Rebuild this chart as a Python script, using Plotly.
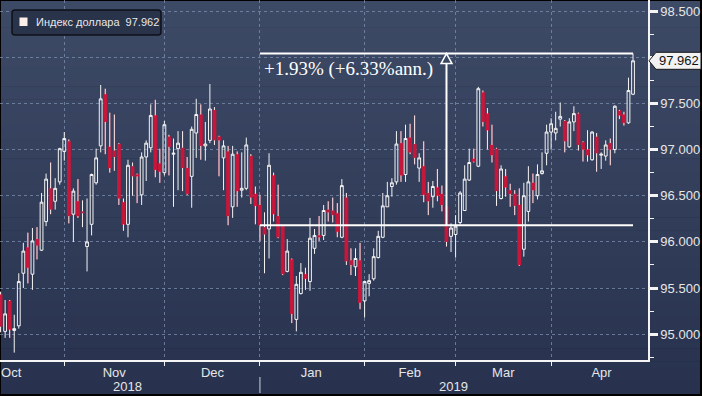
import plotly.graph_objects as go
import pandas as pd

# ---------------- data ----------------
dates = pd.bdate_range("2018-10-12", periods=140)

open_ = [95.43, 95.03, 95.36, 95.04, 95.09, 95.66, 95.94, 95.65, 96.03, 95.91,
         96.22, 96.58, 96.44, 96.65, 96.98, 97.09, 96.30, 96.44, 96.33, 95.95,
         96.19, 96.64, 97.04, 97.60, 97.03, 96.99, 97.06, 96.43, 96.19, 96.82,
         96.73, 96.51, 96.92, 97.02, 97.37, 96.85, 96.75, 97.14, 96.95, 97.01,
         97.02, 96.80, 96.71, 97.18, 97.38, 97.04, 97.10, 97.43, 97.14, 96.91,
         96.98, 96.38, 96.95, 96.56, 96.58, 96.93, 96.52, 96.40, 96.16, 96.14,
         96.72, 96.28, 96.17, 95.68, 95.81, 95.16, 95.44, 95.65, 95.57, 95.93,
         96.07, 96.07, 96.35, 96.34, 96.31, 96.05, 96.48, 95.80, 95.73, 95.80,
         95.36, 95.55, 95.60, 95.83, 96.05, 96.38, 96.60, 96.65, 97.07, 96.73,
         97.13, 97.06, 96.80, 96.82, 96.53, 96.49, 96.59, 96.52, 96.38, 96.06,
         96.08, 96.21, 96.34, 96.67, 96.90, 96.82, 97.62, 97.39, 97.05, 97.01,
         96.47, 96.71, 96.56, 96.52, 96.40, 95.92, 96.33, 96.64, 96.50, 96.74,
         96.96, 97.19, 97.18, 97.33, 97.31, 97.03, 97.30, 97.39, 97.08, 97.00,
         96.89, 97.14, 96.94, 96.93, 97.07, 97.00, 97.42, 97.38, 97.29, 97.60]
high = [95.46, 95.37, 95.37, 95.21, 95.66, 95.99, 96.10, 96.15, 96.16, 96.53,
        96.74, 96.86, 96.69, 97.02, 97.19, 97.11, 96.58, 96.68, 96.45, 96.47,
        96.74, 97.01, 97.70, 97.66, 97.40, 97.38, 97.07, 96.47, 96.89, 96.86,
        96.74, 96.97, 97.10, 97.49, 97.54, 97.01, 97.31, 97.16, 97.12, 97.20,
        97.20, 96.92, 97.25, 97.55, 97.49, 97.30, 97.71, 97.46, 97.15, 97.10,
        97.04, 97.04, 96.98, 96.97, 97.13, 96.95, 96.60, 96.51, 96.32, 96.96,
        96.75, 96.62, 96.18, 96.03, 95.82, 95.63, 95.77, 95.72, 96.26, 96.14,
        96.28, 96.40, 96.44, 96.48, 96.42, 96.68, 96.53, 95.93, 95.93, 95.99,
        95.58, 95.65, 95.93, 96.12, 96.53, 96.65, 96.69, 97.20, 97.20, 97.27,
        97.28, 97.37, 96.96, 97.09, 96.65, 96.66, 96.79, 96.61, 96.40, 96.20,
        96.29, 96.55, 96.83, 97.01, 97.01, 97.68, 97.64, 97.45, 97.27, 97.02,
        96.83, 96.79, 96.63, 96.56, 96.58, 96.64, 96.82, 96.74, 96.84, 96.97,
        97.27, 97.34, 97.41, 97.51, 97.32, 97.34, 97.47, 97.40, 97.09, 97.21,
        97.20, 97.18, 96.97, 97.10, 97.12, 97.48, 97.43, 97.41, 97.78, 98.04]
low = [95.02, 94.96, 94.96, 94.80, 95.06, 95.50, 95.55, 95.48, 95.81, 95.90,
       96.17, 96.30, 96.35, 96.62, 96.88, 96.20, 96.00, 96.26, 96.16, 95.68,
       96.07, 96.62, 96.97, 96.95, 96.75, 96.77, 96.40, 96.12, 96.05, 96.50,
       96.42, 96.40, 96.66, 96.97, 96.70, 96.64, 96.72, 96.72, 96.38, 96.56,
       96.55, 96.51, 96.37, 96.91, 96.89, 96.88, 97.07, 97.05, 96.71, 96.56,
       96.18, 96.26, 96.38, 96.48, 96.56, 96.41, 96.19, 96.01, 95.66, 95.82,
       96.22, 96.04, 95.64, 95.67, 95.12, 95.03, 95.43, 95.48, 95.47, 95.87,
       96.01, 96.02, 96.22, 96.21, 96.05, 96.04, 95.75, 95.64, 95.63, 95.27,
       95.18, 95.41, 95.58, 95.82, 96.04, 96.38, 96.49, 96.62, 96.65, 96.65,
       96.95, 96.84, 96.65, 96.43, 96.29, 96.37, 96.44, 96.33, 95.95, 95.89,
       95.83, 96.19, 96.34, 96.66, 96.86, 96.81, 97.25, 97.00, 96.86, 96.39,
       96.46, 96.49, 96.38, 96.29, 95.74, 95.84, 96.22, 96.42, 96.46, 96.73,
       96.83, 97.00, 97.10, 97.25, 96.97, 97.02, 97.20, 96.99, 96.87, 96.87,
       96.88, 96.76, 96.79, 96.88, 96.83, 96.96, 97.33, 97.26, 97.28, 97.59]
close = [95.08, 95.22, 95.05, 95.06, 95.57, 95.90, 95.72, 96.01, 95.96, 96.43,
         96.68, 96.35, 96.58, 97.01, 97.12, 96.28, 96.55, 96.28, 96.31, 96.00,
         96.73, 96.91, 97.55, 97.30, 96.80, 96.92, 96.47, 96.19, 96.83, 96.71,
         96.71, 96.92, 97.07, 97.37, 96.78, 96.76, 97.27, 97.03, 96.96, 97.07,
         96.80, 96.52, 97.22, 97.38, 97.04, 97.06, 97.44, 97.10, 97.10, 97.04,
         96.28, 96.95, 96.55, 96.58, 97.05, 96.48, 96.39, 96.18, 96.08, 96.83,
         96.30, 96.05, 95.65, 95.90, 95.22, 95.54, 95.67, 95.60, 96.04, 96.07,
         96.05, 96.34, 96.32, 96.29, 96.11, 96.61, 95.79, 95.75, 95.82, 95.34,
         95.57, 95.58, 95.84, 96.06, 96.39, 96.50, 96.64, 97.06, 96.72, 97.12,
         96.97, 96.91, 96.91, 96.51, 96.44, 96.60, 96.50, 96.40, 96.00, 96.15,
         96.17, 96.53, 96.68, 96.86, 96.87, 97.66, 97.30, 97.21, 96.94, 96.55,
         96.79, 96.59, 96.52, 96.39, 95.75, 96.50, 96.65, 96.56, 96.73, 96.77,
         97.19, 97.28, 97.23, 97.36, 97.09, 97.30, 97.39, 97.05, 97.00, 96.94,
         97.19, 96.96, 96.95, 97.05, 97.00, 97.47, 97.37, 97.29, 97.64, 97.962]

month_names = ["Oct", "Nov", "Dec", "Jan", "Feb", "Mar", "Apr"]
year_names = ["2018", "2019"]
y_ticks = [95.0, 95.5, 96.0, 96.5, 97.0, 97.5, 98.0, 98.5]
series_name = "Индекс доллара"
measure_text = "+1.93% (+6.33%ann.)"

# ---------------- derived ----------------
n = len(close)
x = list(range(n))
month_starts = [i for i in range(1, n) if dates[i].month != dates[i - 1].month]
year_start = [i for i in range(1, n) if dates[i].year != dates[i - 1].year][0]
last = n - 1

# pixel helpers for layout decorations (plot area 648 x 360)
PW, PH = 648.0, 360.0
def fx(px):
    return px / PW
def fy(py):
    return (PH - py) / PH

BG_TOP = (61, 74, 102)
BG_BOT = (40, 50, 79)
RED = "#c8173b"
WHITE = "#f4f4f4"
GRID = "rgba(125,143,176,0.75)"

fig = go.Figure()

fig.add_trace(go.Candlestick(
    x=x, open=open_, high=high, low=low, close=close,
    increasing=dict(line=dict(color=WHITE, width=1), fillcolor="rgba(0,0,0,0)"),
    decreasing=dict(line=dict(color=RED, width=1), fillcolor=RED),
    whiskerwidth=0, showlegend=False, hoverinfo="skip",
))

# white wicks for down candles
wx, wy = [], []
for i in range(n):
    if close[i] < open_[i]:
        wx += [i, i, None, i, i, None]
        wy += [high[i], open_[i], None, close[i], low[i], None]
fig.add_trace(go.Scatter(x=wx, y=wy, mode="lines", line=dict(color=WHITE, width=1),
                         showlegend=False, hoverinfo="skip"))

shapes = []
# gradient background
N = 60
top_px, bot_px = 1.0, 394.0
step = (bot_px - top_px) / N
for k in range(N):
    t = k / (N - 1)
    c = tuple(round(BG_TOP[j] + (BG_BOT[j] - BG_TOP[j]) * t) for j in range(3))
    p0 = top_px + k * step
    p1 = p0 + step + 0.6
    shapes.append(dict(type="rect", xref="paper", yref="paper", layer="below",
                       x0=fx(1), x1=fx(700), y0=fy(p0), y1=fy(min(p1, bot_px)),
                       fillcolor="rgb(%d,%d,%d)" % c, line=dict(width=0)))

# year separator
shapes.append(dict(type="line", xref="x", yref="paper", x0=year_start, x1=year_start,
                   y0=fy(377), y1=fy(393), line=dict(color="#cfd3da", width=1)))

# measurement lines
lo = close[year_start]
hi = high[last]
mid = (year_start + last) / 2
for lvl in (lo, hi):
    shapes.append(dict(type="line", xref="x", yref="y", x0=year_start, x1=last,
                       y0=lvl, y1=lvl, line=dict(color="white", width=2)))
tri_h = 10 / 92.3
tri_w = 5.5 / 4.55
shapes.append(dict(type="line", xref="x", yref="y", x0=mid, x1=mid, y0=lo, y1=hi - tri_h,
                   line=dict(color="white", width=2)))
shapes.append(dict(type="path", xref="x", yref="y",
                   path="M %f,%f L %f,%f L %f,%f Z" % (mid - tri_w, hi - tri_h, mid, hi,
                                                      mid + tri_w, hi - tri_h),
                   fillcolor="rgb(58,71,99)", line=dict(color="white", width=1.5)))

# last price tag
half = 8.5 / 92.3
lp = close[last]
shapes.append(dict(type="path", xref="paper", yref="y",
                   path="M %f,%f L %f,%f L %f,%f L %f,%f L %f,%f Z" % (
                       fx(649), lp, fx(656), lp + half, fx(701), lp + half,
                       fx(701), lp - half, fx(656), lp - half),
                   fillcolor="#f2f2f2", line=dict(color="#1a1a1a", width=1)))

# legend box (rounded)
x0, x1, y0, y1, r = 12, 161, 10, 35, 3
pts = [("M", x0 + r, y0), ("L", x1 - r, y0), ("Q", x1, y0, x1, y0 + r),
       ("L", x1, y1 - r), ("Q", x1, y1, x1 - r, y1), ("L", x0 + r, y1),
       ("Q", x0, y1, x0, y1 - r), ("L", x0, y0 + r), ("Q", x0, y0, x0 + r, y0)]
path = ""
for p in pts:
    if p[0] == "Q":
        path += "Q %f,%f %f,%f " % (fx(p[1]), fy(p[2]), fx(p[3]), fy(p[4]))
    else:
        path += "%s %f,%f " % (p[0], fx(p[1]), fy(p[2]))
path += "Z"
shapes.append(dict(type="path", xref="paper", yref="paper", path=path,
                   fillcolor="rgb(41,51,74)", line=dict(color="rgb(14,17,24)", width=1.5)))
shapes.append(dict(type="rect", xref="paper", yref="paper", x0=fx(19.5), x1=fx(27.5),
                   y0=fy(17.5), y1=fy(26), fillcolor="#fcefe9", line=dict(width=0)))

annotations = [
    dict(xref="paper", yref="paper", x=fx(33.5), y=fy(22), xanchor="left", yanchor="middle",
         text="%s  %.3f" % (series_name, close[last]), showarrow=False,
         font=dict(family="Liberation Sans", size=11, color="#e8e8e8")),
    dict(xref="paper", yref="y", x=fx(678.5), y=lp, xanchor="center", yanchor="middle",
         text="%.3f" % close[last], showarrow=False,
         font=dict(family="Liberation Sans", size=13, color="#111111")),
    dict(xref="x", yref="y", x=year_start + 0.35, y=hi - 0.03, xanchor="left", yanchor="top",
         text=measure_text, showarrow=False,
         font=dict(family="Liberation Serif", size=19, color="white")),
]
year_pos = [27.9, 99.5]
for yp, yn in zip(year_pos, year_names):
    annotations.append(dict(xref="x", yref="paper", x=yp, y=fy(386), xanchor="center",
                            yanchor="middle", text=yn, showarrow=False,
                            font=dict(family="Liberation Sans", size=13, color="#e6e6e6")))

label_pos = [2.33, 24.97, 46.57, 68.29, 89.91, 110.48, 132.07]

fig.update_layout(
    width=702, height=396,
    margin=dict(l=0, r=54, t=0, b=36),
    paper_bgcolor="#000000",
    plot_bgcolor="rgba(0,0,0,0)",
    showlegend=False,
    boxgap=0.12,
    shapes=shapes,
    annotations=annotations,
    xaxis=dict(
        range=[-0.13, 142.29], tickmode="array", tickvals=label_pos, ticktext=month_names,
        ticks="", showgrid=False, zeroline=False, showline=True, linecolor=WHITE, linewidth=1.5,
        tickfont=dict(family="Liberation Sans", size=13, color="#e6e6e6"),
        minor=dict(tickmode="array", tickvals=month_starts, ticks="outside", ticklen=4,
                   tickcolor=WHITE, tickwidth=1, showgrid=True, gridcolor=GRID,
                   griddash="dot", gridwidth=1),
        rangeslider=dict(visible=False), fixedrange=True,
    ),
    yaxis=dict(
        side="right", range=[94.72, 98.621], tickmode="array", tickvals=y_ticks,
        ticktext=["" if v == 98.0 else "%.3f" % v for v in y_ticks],
        ticks="outside", ticklen=8, tickwidth=2.5, tickcolor=WHITE,
        showgrid=True, gridcolor=GRID, griddash="dot", gridwidth=1, zeroline=False,
        showline=True, linecolor=WHITE, linewidth=1.5,
        tickfont=dict(family="Liberation Sans", size=13, color="#e6e6e6"),
        minor=dict(tickmode="linear", tick0=0, dtick=0.25, ticks="outside", ticklen=4,
                   tickcolor=WHITE, tickwidth=1, showgrid=False),
        fixedrange=True,
    ),
)

fig.write_html("out.html", config={"displayModeBar": False},
               post_script="document.body.style.margin='0px';document.body.style.padding='0px';")
